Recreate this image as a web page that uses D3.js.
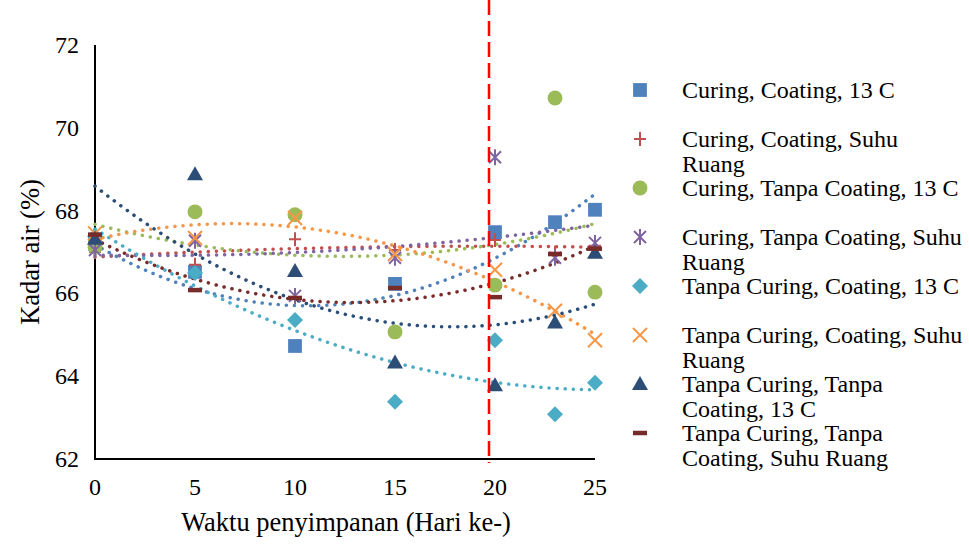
<!DOCTYPE html>
<html>
<head>
<meta charset="utf-8">
<script src="https://cdn.jsdelivr.net/npm/d3@7"></script>
<style>
  body { margin: 0; background: #fff; }
</style>
</head>
<body>
<div id="chart"></div>
<script>
// days of storage
var days = [0, 5, 10, 15, 20, 23, 25];

// kadar air (%) per treatment
var ccDingin   = [67.2, 66.52, 64.73, 66.23, 67.48, 67.72, 68.02];  // Curing, Coating, 13 C
var ccRuang    = [67.0, 66.69, 67.31, 67.05, 67.29, 66.98, 67.15];  // Curing, Coating, Suhu Ruang
var ctcDingin  = [67.12, 67.97, 67.9, 65.07, 66.2, 70.72, 66.03];   // Curing, Tanpa Coating, 13 C
var ctcRuang   = [67.05, 67.27, 65.94, 66.86, 69.29, 66.86, 67.22]; // Curing, Tanpa Coating, Suhu Ruang
var tcDingin   = [67.38, 66.49, 65.36, 63.38, 64.87, 63.08, 63.84]; // Tanpa Curing, Coating, 13 C
var tcRuang    = [67.45, 67.34, 67.82, 66.95, 66.57, 65.58, 64.87]; // Tanpa Curing, Coating, Suhu Ruang
var ttDingin   = [67.32, 68.88, 66.54, 64.33, 63.78, 65.3, 66.98];  // Tanpa Curing, Tanpa Coating, 13 C
var ttRuang    = [67.42, 66.08, 65.89, 66.13, 65.91, 66.95, 67.08]; // Tanpa Curing, Tanpa Coating, Suhu Ruang

var seriesNames = [
  ["Curing, Coating, 13 C"],
  ["Curing, Coating, Suhu", "Ruang"],
  ["Curing, Tanpa Coating, 13 C"],
  ["Curing, Tanpa Coating, Suhu", "Ruang"],
  ["Tanpa Curing, Coating, 13 C"],
  ["Tanpa Curing, Coating, Suhu", "Ruang"],
  ["Tanpa Curing, Tanpa", "Coating, 13 C"],
  ["Tanpa Curing, Tanpa", "Coating, Suhu Ruang"]
];
var seriesValues = [ccDingin, ccRuang, ctcDingin, ctcRuang, tcDingin, tcRuang, ttDingin, ttRuang];
var colors = ["#4F81BD", "#C0504D", "#9BBB59", "#8064A2", "#4BACC6", "#F79646", "#2C4D75", "#772C2A"];
var markers = ["square", "plus", "circle", "star", "diamond", "cross", "triangle", "dash"];

var xTicks = [0, 5, 10, 15, 20, 25];
var yTicks = [62, 64, 66, 68, 70, 72];
var cutoffDay = 19.7; // red dashed reference line

var width = 969, height = 551;
var fontFamily = "'Liberation Serif', 'Times New Roman', serif";
var svg = d3.select("#chart").append("svg")
  .attr("width", width)
  .attr("height", height)
  .attr("font-family", fontFamily);

var xScale = d3.scaleLinear().domain([0, 25]).range([95, 595]);
var yScale = d3.scaleLinear().domain([62, 72]).range([459, 45]);

// least squares, order 2 (like excel's polynomial trendline)
function polyFit(xs, ys){
  var n = xs.length, s = [0,0,0,0,0], t = [0,0,0];
  for (var i = 0; i < n; i++){
    var p = 1;
    for (var k = 0; k < 5; k++){ s[k] += p; if (k < 3) t[k] += p * ys[i]; p *= xs[i]; }
  }
  var A = [[s[0], s[1], s[2], t[0]], [s[1], s[2], s[3], t[1]], [s[2], s[3], s[4], t[2]]];
  for (var c = 0; c < 3; c++){
    for (var r = c + 1; r < 3; r++){
      var f = A[r][c] / A[c][c];
      for (var q = c; q < 4; q++) A[r][q] -= f * A[c][q];
    }
  }
  var b = [0,0,0];
  for (var r2 = 2; r2 >= 0; r2--){
    var sum = A[r2][3];
    for (var q2 = r2 + 1; q2 < 3; q2++) sum -= A[r2][q2] * b[q2];
    b[r2] = sum / A[r2][r2];
  }
  return function(x){ return b[0] + b[1]*x + b[2]*x*x; };
}

function markerPath(type){
  switch (type){
    case "square": return d3.symbol(d3.symbolSquare, 190)();
    case "circle": return d3.symbol(d3.symbolCircle, 175)();
    case "triangle": return "M0,-8L8,6L-8,6Z";
    case "diamond": return "M0,-8L8,0L0,8L-8,0Z";
    case "plus": return "M-6,0L6,0M0,-7L0,7";
    case "cross": return "M-7,-7L7,7M-7,7L7,-7";
    case "star": return "M-6,-6L6,6M-6,6L6,-6M0,-8L0,8";
    case "dash": return "M-7,0L7,0";
  }
}
function isLineMarker(type){
  return type == "plus" || type == "cross" || type == "star" || type == "dash";
}
function drawMarker(g, type, color, x, y){
  var p = g.append("path")
    .attr("d", markerPath(type))
    .attr("transform", "translate(" + x + "," + y + ")");
  if (isLineMarker(type)){
    p.attr("fill", "none").attr("stroke", color)
     .attr("stroke-width", type == "dash" ? 4.5 : 2);
  } else {
    p.attr("fill", color);
  }
}

// axes lines only (no ticks)
svg.append("line").attr("x1", xScale(0)).attr("x2", xScale(0))
  .attr("y1", yScale(72)).attr("y2", yScale(62))
  .attr("stroke", "#000").attr("stroke-width", 2);
svg.append("line").attr("x1", xScale(0) - 1).attr("x2", xScale(25))
  .attr("y1", yScale(62)).attr("y2", yScale(62))
  .attr("stroke", "#000").attr("stroke-width", 2);

svg.selectAll(".ytick").data(yTicks).enter().append("text")
  .attr("x", 79).attr("y", d => yScale(d) + 8)
  .attr("text-anchor", "end").attr("font-size", 24)
  .text(d => d);
svg.selectAll(".xtick").data(xTicks).enter().append("text")
  .attr("x", d => xScale(d)).attr("y", 495)
  .attr("text-anchor", "middle").attr("font-size", 24)
  .text(d => d);

svg.append("text").attr("x", 346).attr("y", 531)
  .attr("text-anchor", "middle").attr("font-size", 26.5)
  .text("Waktu penyimpanan (Hari ke-)");
svg.append("text").attr("transform", "translate(39,252) rotate(-90)")
  .attr("text-anchor", "middle").attr("font-size", 26.5)
  .text("Kadar air (%)");

// trendlines
var trendX = d3.range(0, 25.01, 0.25);
var line = d3.line()
  .x(d => xScale(d[0]))
  .y(d => yScale(d[1]));
seriesValues.forEach((vals, i) => {
  var fit = polyFit(days, vals);
  svg.append("path")
    .datum(trendX.map(x => [x, fit(x)]))
    .attr("fill", "none")
    .attr("stroke", colors[i])
    .attr("stroke-width", 3.5)
    .attr("stroke-linecap", "round")
    .attr("stroke-dasharray", "0.1,8")
    .attr("d", line);
});

// markers
seriesValues.forEach((vals, i) => {
  var g = svg.append("g").attr("class", "series s" + i);
  vals.forEach((v, j) => {
    drawMarker(g, markers[i], colors[i], xScale(days[j]), yScale(v));
  });
});

// red dashed reference line
svg.append("line")
  .attr("x1", xScale(cutoffDay)).attr("x2", xScale(cutoffDay))
  .attr("y1", 0).attr("y2", 463)
  .attr("stroke", "#FF0000").attr("stroke-width", 2.5)
  .attr("stroke-dasharray", "15,6");

// legend
var legend = svg.append("g").attr("class", "legend");
seriesNames.forEach((lines, i) => {
  var y = 90 + i * 49;
  drawMarker(legend, markers[i], colors[i], 640, y);
  lines.forEach((t, k) => {
    legend.append("text")
      .attr("x", 682).attr("y", y + 8 + k * 25)
      .attr("font-size", 24)
      .text(t);
  });
});
</script>
</body>
</html>
